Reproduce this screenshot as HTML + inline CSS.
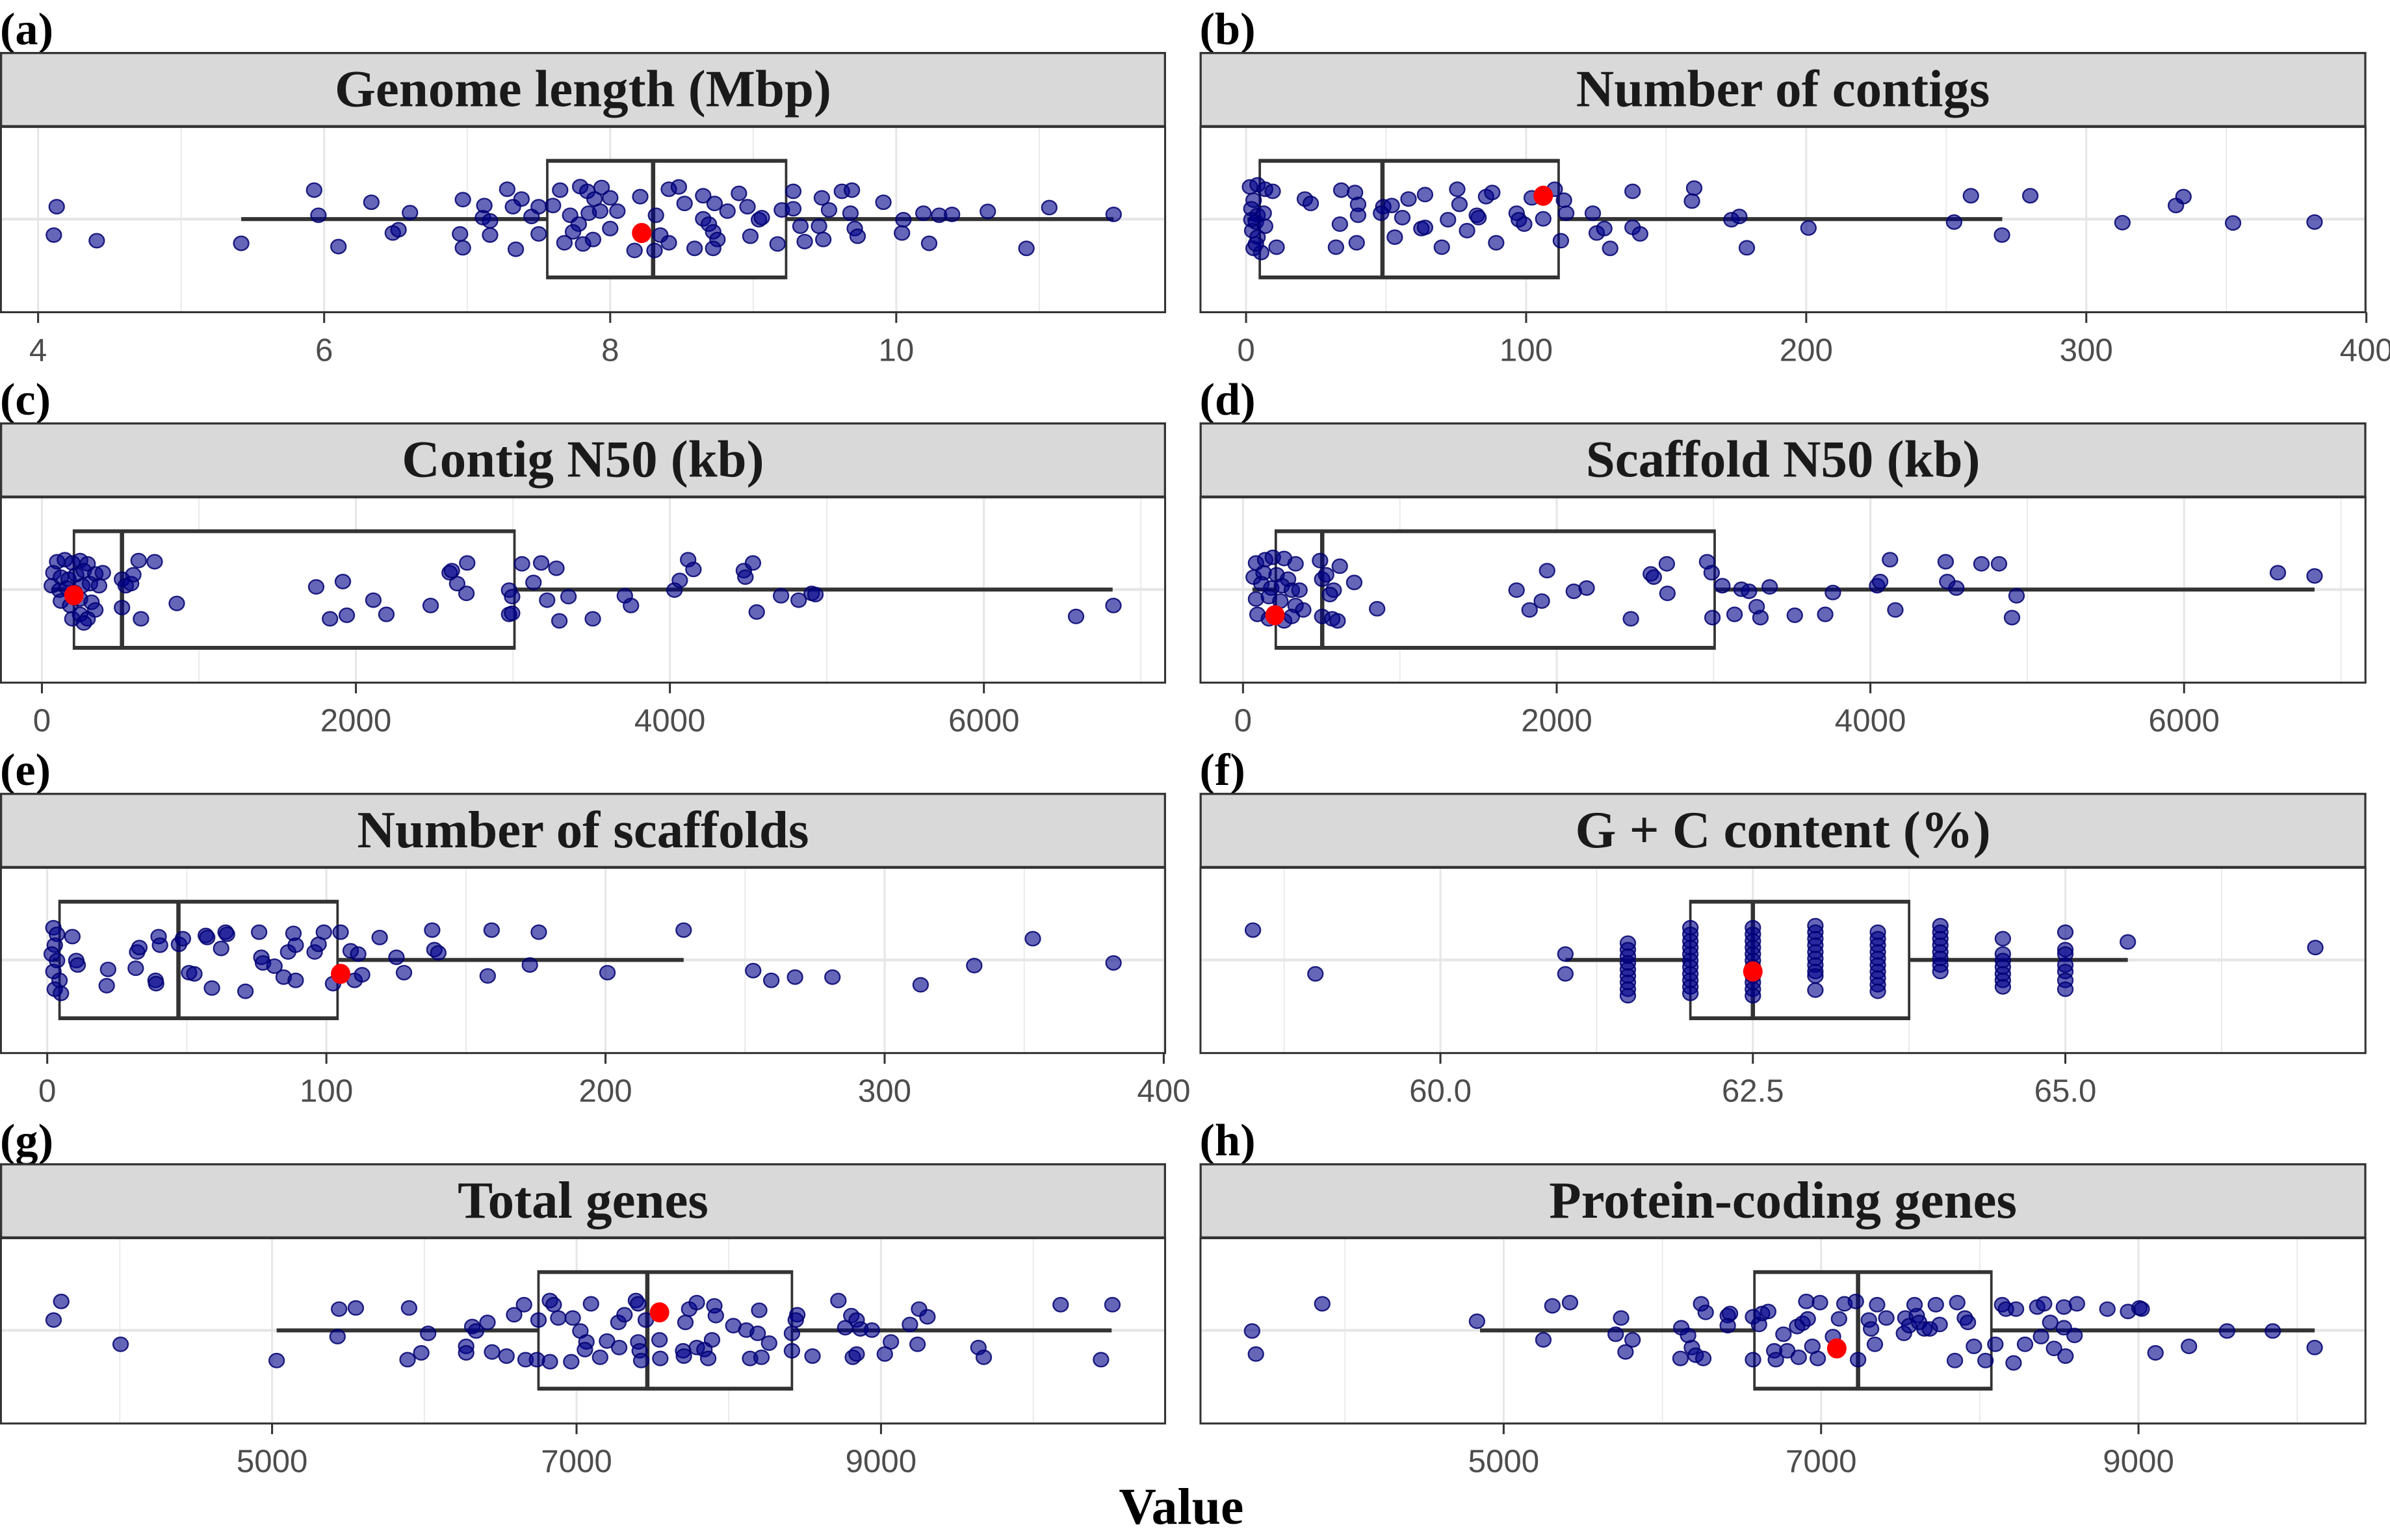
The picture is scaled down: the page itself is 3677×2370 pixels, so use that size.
<!DOCTYPE html>
<html><head><meta charset="utf-8"><title>Genome statistics boxplots</title>
<style>html,body{margin:0;padding:0;background:#fff}svg{display:block}</style></head>
<body>
<svg id="fig" xmlns="http://www.w3.org/2000/svg" width="3677" height="2370" viewBox="0 0 1568 1010.66" preserveAspectRatio="none"></svg>
<script>
// ---- data ----
const panelTitles = ["Genome length (Mbp)","Number of contigs","Contig N50 (kb)","Scaffold N50 (kb)","Number of scaffolds","G + C content (%)","Total genes","Protein-coding genes"];
const panelLetters = ["(a)","(b)","(c)","(d)","(e)","(f)","(g)","(h)"];
const tickA=[4,6,8,10], tickB=[0,100,200,300,400], tickC=[0,2000,4000,6000], tickD=[0,2000,4000,6000], tickE=[0,100,200,300,400], tickF=[60,62.5,65], tickG=[5000,7000,9000], tickH=[5000,7000,9000];
const tickLabelsF=["60.0","62.5","65.0"];
const boxQ1=[7.56,4.9,204,209,4.4,62.0,6750,6580];
const boxMed=[8.30,48.7,510,505,47,62.5,7465,7233];
const boxQ3=[9.23,111.6,3010,3007,104,63.75,8415,8073];
const whiskLo=[5.42,0.5,60,60,2,61.0,5030,4851];
const whiskHi=[11.52,270,6820,6832,228,65.5,10515,10110];
const refVal=[8.22,106.1,204,204,105.1,62.5,7545,7099];
const refJit=[0.47,-0.79,0.19,0.87,0.47,0.39,-0.61,0.61];

const aVals=[4.13,4.11,4.41,5.42,5.93,5.96,6.10,6.33,6.60,6.48,6.52,6.97,6.95,6.97,7.12,7.11,7.16,7.16,7.28,7.38,7.32,7.45,7.34,7.50,7.50,7.60,7.65,7.79,7.84,7.94,7.89,8.00,7.72,7.78,7.85,7.93,8.05,7.68,7.74,7.81,7.88,8.00,8.21,8.32,8.17,8.31,8.35,8.41,8.41,8.48,8.52,8.65,8.73,8.65,8.69,8.72,8.75,8.59,8.72,8.82,8.90,8.96,8.98,9.04,9.06,9.17,9.20,9.28,9.28,9.33,9.36,9.48,9.53,9.46,9.49,9.62,9.69,9.68,9.71,9.73,9.91,10.05,10.04,10.19,10.23,10.30,10.39,10.64,10.91,11.07,11.52];
const aJit=[-.42,.54,.73,.82,-.98,-.13,.93,-.57,-.22,.47,.36,-.66,.5,.97,-.46,-.05,.06,.54,-1.01,-.68,-.42,-.09,1.02,-.42,.5,-.46,-.98,-1.1,-.94,-1.07,-.68,-.72,-.13,.17,-.2,-.27,-.27,.8,.43,.84,.69,.32,-.76,-.13,1.06,1.06,.54,.8,-1.01,-1.09,-.53,-.79,-.53,-.01,.17,.43,.69,.99,.99,-.27,-.87,-.42,.58,.02,-.05,.84,-.31,-.94,-.35,.24,.76,-.72,-.31,.24,.69,-.94,-.98,-.2,.32,.58,-.57,.02,.47,-.2,.82,-.13,-.16,-.26,.99,-.39,-.16];

const bVals=[1.4,4.1,6.8,9.5,2.7,1.9,4.1,3.5,2.2,4.1,2.7,5.4,3.5,6.8,1.9,6.3,10.9,21,23.1,34,38.9,40,40,33.5,32.1,39.5,49,52,48.2,55.8,53.1,58,63.9,62.6,63.9,69.9,72.1,75.4,76.2,82.4,83,78.9,85.7,87.9,89.3,96.6,97.4,99.3,102,106.1,110.2,113.5,114.3,112.4,123.8,125.2,127.9,130,138,138,140.7,159.2,160,173.3,176.1,178.8,200.8,252.8,258.8,269.9,280,312.9,332,334.7,352.4,381.5];
const bJit=[-1.09,-1.16,-1.01,-.94,-.64,-.35,-.13,.1,.39,.61,.99,1.13,.84,.24,.02,-.2,.95,-.68,-.53,-.98,-.9,-.5,-.13,.17,.95,.8,-.42,-.46,-.2,-.05,.61,-.68,-.83,.32,.28,.95,.02,-1.01,-.5,-.13,-.05,.39,-.76,-.9,.8,-.2,.02,.17,-.72,-.01,-1.01,-.64,-.2,.73,-.2,.47,.32,.99,-.94,.28,.5,-.61,-1.05,.02,-.09,.97,.3,.1,-.79,.54,-.79,.12,-.46,-.76,.13,.1];

const cVals=[97,146,194,243,291,73,121,170,218,267,340,388,63,112,160,209,257,306,364,121,180,243,316,340,194,243,291,267,510,534,568,510,582,616,718,631,859,1747,1917,1835,1942,2111,2194,2476,2597,2611,2645,2709,2704,2976,2995,2976,2995,3058,3131,3180,3277,3218,3354,3296,3509,3713,3752,4029,4063,4116,4150,4471,4481,4529,4553,4708,4820,4903,4927,6587,6825];
const cJit=[-.94,-1.01,-.9,-.98,-.87,-.57,-.42,-.35,-.5,-.64,-.53,-.57,-.13,.02,-.05,.1,-.13,-.2,-.13,.39,.54,.32,.43,.69,.99,.84,.99,1.13,-.35,-.13,-.2,.61,-.5,-.98,-.94,.99,.47,-.09,-.27,.99,.87,.36,.84,.54,-.57,-.64,-.2,-.9,.13,.02,.24,.84,.8,-.87,-.24,-.9,-.72,.36,.24,1.06,.99,.21,.54,.02,-.31,-1.01,-.68,-.64,-.42,-.9,.76,.21,.36,.13,.17,.91,.54];

const dVals=[83,141,190,262,335,68,131,214,287,117,180,248,311,360,83,165,238,335,384,92,165,262,311,491,505,530,617,578,554,709,505,569,603,855,1744,1827,1905,1939,2109,2191,2473,2600,2619,2702,2706,2959,2988,2993,3056,3178,3226,3134,3275,3299,3358,3518,3712,3761,4043,4062,4125,4159,4480,4490,4548,4708,4820,4932,4903,6598,6832];
const dJit=[-.9,-1.01,-1.09,-1.05,-.87,-.42,-.57,-.5,-.35,-.2,-.05,-.13,.02,.02,.32,.24,.39,.54,.69,.84,.99,1.06,.91,-.98,-.35,-.5,-.79,.02,.17,-.24,.91,.99,1.06,.65,.02,.69,.39,-.64,.06,-.05,.99,-.53,-.42,-.87,.13,-.94,-.57,.95,-.13,-.01,.06,.84,.58,.95,-.09,.87,.84,.1,-.13,-.27,-1.01,.69,-.94,-.27,-.05,-.87,-.87,.21,.95,-.57,-.46];

const eVals=[2.2,3.5,2.7,1.6,3.5,2.2,4.4,2.7,4.9,9,10.4,10.9,21.3,21.8,31.7,32.2,33,38.8,39,39.9,40.4,47.2,48.6,50.8,52.7,56.8,57.3,59,62.3,63.9,64.4,71,75.9,76.7,77.3,81.4,84.7,86.3,88.2,89,89,95.8,97.2,99.1,102.4,105.1,108.7,111.4,110.1,112.8,119.1,125.1,127.8,137.9,138.7,140.1,157.8,159.2,172.9,176.1,200.7,228,252.9,259.4,267.9,281.3,312.9,332.1,353.1,382];
const eJit=[-1.09,-.87,-.5,-.2,.02,.39,.69,.99,1.13,-.79,.02,.17,.87,.32,.28,-.27,-.42,.69,.8,-.79,-.5,-.53,-.72,.43,.47,-.83,-.76,.95,-.39,-.94,-.87,1.06,-.94,-.09,.1,.21,.58,-.27,-.9,-.5,.69,-.27,-.53,-.94,.8,-.94,-.31,-.2,.69,.5,-.76,-.09,.43,-1.01,-.35,-.24,.54,-1.01,.17,-.94,.43,-1.01,.36,.69,.58,.58,.84,.19,-.72,.1];

const fVals=[58.5,59.0,61.0,61.0,61.5,61.5,61.5,61.5,61.5,61.5,61.5,61.5,61.5,62.0,62.0,62.0,62.0,62.0,62.0,62.0,62.0,62.0,62.0,62.0,62.5,62.5,62.5,62.5,62.5,62.5,62.5,62.5,62.5,62.5,62.5,63.0,63.0,63.0,63.0,63.0,63.0,63.0,63.0,63.0,63.0,63.5,63.5,63.5,63.5,63.5,63.5,63.5,63.5,63.5,63.5,64.0,64.0,64.0,64.0,64.0,64.0,64.0,64.0,64.5,64.5,64.5,64.5,64.5,64.5,64.5,65.0,65.0,65.0,65.0,65.0,65.0,65.0,65.5,67.0];
const fJit=[-1.01,.47,-.2,.47,-.57,-.35,-.13,.1,.32,.54,.76,.99,1.21,-1.09,-.87,-.64,-.42,-.2,.02,.24,.47,.69,.91,1.13,-1.09,-.87,-.64,-.42,-.2,.02,.24,.54,.76,.99,1.21,-1.16,-.94,-.72,-.5,-.27,-.05,.17,.39,.54,1.02,-.94,-.72,-.5,-.27,-.05,.17,.39,.61,.84,1.06,-1.16,-.94,-.72,-.5,-.27,-.05,.17,.39,-.72,-.2,.02,.24,.47,.69,.91,-.94,-.35,-.2,.17,.39,.69,.99,-.61,-.42];

const gVals=[3615,3565,4005,5030,5440,5550,5430,5900,5890,5980,6025,6275,6315,6340,6415,6275,6445,6540,6590,6655,6665,6740,6750,6825,6850,6880,6825,6975,6965,7025,7065,7055,7095,7155,7200,7275,7280,7315,7390,7405,7405,7415,7425,7455,7545,7550,7700,7705,7715,7740,7790,7790,7840,7865,7890,7905,7915,8030,8115,8140,8190,8200,8215,8265,8415,8415,8450,8440,8550,8720,8765,8805,8815,8840,8840,8865,8940,9025,9065,9190,9240,9250,9305,9640,9675,10180,10445,10520];
const gJit=[-.98,-.35,.47,1.02,-.72,-.76,.21,-.76,.99,.76,.1,.54,-.13,.02,-.27,.76,.73,.87,-.53,-.87,.99,.99,-.35,-1.01,-.87,-.42,1.06,-.42,1.06,.02,.39,.65,-.9,.91,.36,-.27,.58,-.53,-1.01,-.9,.39,.69,1.02,-.35,.32,.95,.69,.87,-.27,-.72,-.94,.58,.65,.95,.32,-.83,-.5,-.16,-.01,.95,.1,-.68,.91,.43,.1,.69,-.53,-.35,.87,-1.01,-.09,-.5,.91,.8,-.35,-.05,-.01,.8,.39,-.2,.47,-.72,-.46,.58,.91,-.87,.99,-.87];

const hVals=[3415,3439,3857,4832,5250,5307,5418,5740,5706,5768,5812,6119,6162,6114,6186,6210,6244,6258,6273,6412,6426,6412,6571,6571,6609,6628,6667,6705,6715,6763,6787,6849,6859,6883,6907,6916,6945,6979,6993,7075,7113,7147,7219,7233,7301,7315,7339,7353,7411,7531,7522,7555,7589,7603,7618,7651,7685,7723,7747,7858,7843,7906,7925,7963,8036,8098,8141,8165,8228,8213,8285,8362,8386,8405,8444,8468,8530,8530,8540,8597,8612,8804,8934,9006,9020,9107,9318,9558,9846,10110];
const hJit=[.02,.8,-.9,-.31,.32,-.83,-.94,-.42,.13,.73,.32,-.09,.17,.95,.58,.84,-.9,.95,-.61,-.5,-.57,-.16,-.46,.99,-.2,-.57,-.64,.69,.99,.13,.69,-.13,.91,-.24,-.98,-.39,.54,.95,-.94,.21,-.39,-.9,-.98,.99,-.35,-.05,.47,-.87,-.42,-.42,.1,-.16,-.87,-.5,-.27,-.05,-.05,-.87,-.2,-.94,1.02,-.42,-.27,.54,1.02,.47,-.87,-.72,-.72,1.1,.47,-.79,.21,-.9,-.27,.61,-.79,-.09,.87,.17,-.9,-.72,-.64,-.76,-.72,.76,.54,.02,.02,.58];

// ---- layout (not data) ----
const NS="http://www.w3.org/2000/svg";
const svg=document.getElementById('fig');
const COLX=[[0,765],[787,1552.5]];
const ROW0=83.3, PITCH=243.1, PH=121.6;
const scales=[[4,10,25,588],[0,400,817.5,1552.5],[0,6000,27.5,645.5],[0,6000,815.5,1432.9],[0,400,31,763.5],[60,65,945,1355],[5000,9000,178.5,578],[5000,9000,986.5,1403]];
const ticks=[tickA,tickB,tickC,tickD,tickE,tickF,tickG,tickH];
const minorStep=[1,50,1000,1000,50,1.25,1000,1000];
const valsArr=[aVals,bVals,cVals,dVals,eVals,fVals,gVals,hVals];
const jitArr=[aJit,bJit,cJit,dJit,eJit,fJit,gJit,hJit];

function el(tag,attrs,parent){const e=document.createElementNS(NS,tag);for(const k in attrs)e.setAttribute(k,attrs[k]);(parent||svg).appendChild(e);return e;}
function mkx(i){const s=scales[i];return v=>s[2]+(v-s[0])*(s[3]-s[2])/(s[1]-s[0]);}
function fmt(i,v){if(i===5)return tickLabelsF[tickF.indexOf(v)];return String(v);}

for(let i=0;i<8;i++){
  const col=i%2,row=Math.floor(i/2);
  const x0=COLX[col][0],x1=COLX[col][1];
  const top=ROW0+row*PITCH,bot=top+PH,cy=top+60.5;
  const X=mkx(i);
  const g=el('g',{});
  
  
  const lt=el('text',{x:x0,y:29,'font-family':'Liberation Serif, serif','font-weight':'bold','font-size':30,fill:'#000'},g);
  lt.setAttribute('y',29+row*PITCH);
  lt.textContent=panelLetters[i];
  
  
  const st=el('rect',{x:x0+0.7,y:top-48.5,width:x1-x0-1.4,height:48,fill:'#D9D9D9',stroke:'#333','stroke-width':1.4},g);
  
  
  const stt=el('text',{x:(x0+x1)/2,y:top-13.5,'text-anchor':'middle','font-family':'Liberation Serif, serif','font-weight':'bold','font-size':34.5,fill:'#1A1A1A'},g);
  stt.textContent=panelTitles[i];
  
  
  const bg=el('rect',{x:x0,y:top,width:x1-x0,height:PH,fill:'#fff'},g);
  
  
  const ms=minorStep[i];const s=scales[i];
  const lo=s[0]-(s[2]-x0)*(s[1]-s[0])/(s[3]-s[2]);const hi=s[0]+(x1-s[2])*(s[1]-s[0])/(s[3]-s[2]);
  for(let v=Math.ceil(lo/ms)*ms;v<=hi;v+=ms){
    const gx=X(v);
    const major=ticks[i].some(t=>Math.abs(t-v)<1e-6);
    const gl=el('line',{x1:gx,x2:gx,y1:top,y2:bot,stroke:'#E6E6E6','stroke-width':major?1.3:0.7},g);
    
    
  }
  const hg=el('line',{x1:x0,x2:x1,y1:cy,y2:cy,stroke:'#E6E6E6','stroke-width':1.8},g);
  
  
  const wk=el('line',{x1:X(whiskLo[i]),x2:X(whiskHi[i]),y1:cy,y2:cy,stroke:'#333','stroke-width':2.6},g);
  
  
  const bx=el('rect',{x:X(boxQ1[i]),y:cy-38.7,width:X(boxQ3[i])-X(boxQ1[i]),height:77.4,fill:'#fff',stroke:'#333','stroke-width':1.6},g);
  
  
  const be1=el('line',{x1:X(boxQ1[i]),x2:X(boxQ3[i]),y1:cy-38.2,y2:cy-38.2,stroke:'#333','stroke-width':2.4},g);
  
  
  const be2=el('line',{x1:X(boxQ1[i]),x2:X(boxQ3[i]),y1:cy+38.2,y2:cy+38.2,stroke:'#333','stroke-width':2.4},g);
  
  
  const md=el('line',{x1:X(boxMed[i]),x2:X(boxMed[i]),y1:cy-38.7,y2:cy+38.7,stroke:'#333','stroke-width':2.8},g);
  
  
  const vals=valsArr[i],jit=jitArr[i];const n=Math.min(vals.length,jit.length);
  for(let k=0;k<n;k++){
    const p=el('ellipse',{cx:X(vals[k]),cy:cy+jit[k]*19.4,rx:4.9,ry:4.6,fill:'rgba(0,0,139,0.6)',stroke:'rgba(0,0,110,0.85)','stroke-width':1},g);
    
    
  }
  const rp=el('ellipse',{cx:X(refVal[i]),cy:cy+refJit[i]*19.4,rx:6.4,ry:6.6,fill:'#FF0000'},g);
  
  
  const bd=el('rect',{x:x0+0.6,y:top,width:x1-x0-1.2,height:PH,fill:'none',stroke:'#333','stroke-width':1.3},g);
  
  
  ticks[i].forEach(t=>{
    const tx=X(t);
    const tk=el('line',{x1:tx,x2:tx,y1:bot,y2:bot+7,stroke:'#333','stroke-width':1.3},g);
    
    
    const tl=el('text',{x:tx,y:bot+32,'text-anchor':'middle','font-family':'Liberation Sans, sans-serif','font-size':21,fill:'#4D4D4D'},g);
    tl.textContent=fmt(i,t);
    
    
  });
}
const xt=el('text',{x:775,y:1000,'text-anchor':'middle','font-family':'Liberation Serif, serif','font-weight':'bold','font-size':34,fill:'#000'});
xt.textContent='Value';


</script>
</body></html>
